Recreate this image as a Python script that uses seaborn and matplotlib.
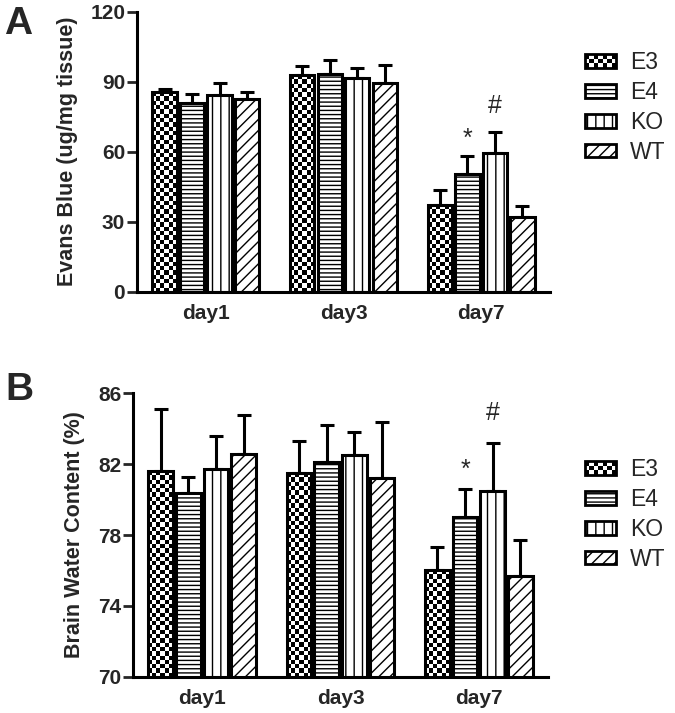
import numpy as np
import pandas as pd
import matplotlib
matplotlib.use("Agg")
import matplotlib.pyplot as plt
import seaborn as sns
from matplotlib.patches import Rectangle
from matplotlib.legend_handler import HandlerBase

# Data
days = ["day1", "day3", "day7"]
groups = ["E3", "E4", "KO", "WT"]

# Panel A: Evans Blue, rows = groups, cols = days
eb_mean = [[85.5, 92.8, 37.2],
           [80.8, 93.2, 50.3],
           [84.3, 91.5, 59.3],
           [82.7, 89.5, 32.1]]
eb_err = [[1.3, 4.1, 6.4],
          [4.0, 5.9, 7.7],
          [5.0, 4.3, 9.3],
          [3.0, 7.5, 4.7]]

# Panel B: brain water content (%)
bwc_mean = [[81.6, 81.5, 76.0],
            [80.35, 82.1, 79.0],
            [81.7, 82.5, 80.5],
            [82.6, 81.2, 75.7]]
bwc_err = [[3.5, 1.8, 1.3],
           [0.95, 2.1, 1.6],
           [1.9, 1.3, 2.7],
           [2.2, 3.2, 2.0]]

# significance marks: (group, day, mark)
sig_marks = [("E4", "day7", "*"), ("KO", "day7", "#")]

hatches = {"E3": None, "E4": "----", "KO": "||", "WT": "///"}
CHECK_PX = 4.3  # size of one checker square in pixels

sns.set_style("ticks")
plt.rcParams["font.family"] = ["Liberation Sans", "DejaVu Sans"]
plt.rcParams["hatch.linewidth"] = 1.0
plt.rcParams["hatch.color"] = "black"


def to_frame(mean, err):
    rows = []
    for gi, g in enumerate(groups):
        for di, d in enumerate(days):
            rows.append({"day": d, "group": g, "value": mean[gi][di], "err": err[gi][di]})
    return pd.DataFrame(rows)


def checker(ax, bar):
    # black/white checkerboard clipped to the bar
    x0, y0 = bar.get_xy()
    w, h = bar.get_width(), bar.get_height()
    ybot = max(y0, ax.get_ylim()[0])
    p0 = ax.transData.transform((x0, ybot))
    p1 = ax.transData.transform((x0 + w, y0 + h))
    ncol = max(1, int(round((p1[0] - p0[0]) / CHECK_PX)))
    nrow = max(1, int(round((p1[1] - p0[1]) / CHECK_PX)))
    grid = (np.add.outer(np.arange(nrow), np.arange(ncol)) % 2).astype(float)
    im = ax.imshow(grid, cmap="gray", vmin=0, vmax=1, extent=(x0, x0 + w, ybot, y0 + h),
                   aspect="auto", interpolation="nearest", zorder=0.8)
    im.set_clip_path(bar)


class CheckerHandler(HandlerBase):
    def create_artists(self, legend, orig_handle, xdescent, ydescent, width, height, fontsize, trans):
        arts = []
        ncol, nrow = 7, 3
        cw, ch = width / ncol, height / nrow
        for i in range(ncol):
            for j in range(nrow):
                if (i + j) % 2 == 0:
                    arts.append(Rectangle((-xdescent + i * cw, -ydescent + j * ch), cw, ch,
                                          facecolor="black", edgecolor="none", transform=trans))
        arts.append(Rectangle((-xdescent, -ydescent), width, height, facecolor="none",
                              edgecolor="black", lw=2.0, transform=trans))
        return arts


def draw_panel(ax, mean, err, ylim, yticks, ylabel, sig_y, legend_anchor):
    df = to_frame(mean, err)
    sns.barplot(data=df, x="day", y="value", hue="group", order=days, hue_order=groups,
                errorbar=None, palette=["white"] * 4, saturation=1, width=0.8, gap=0.12,
                edgecolor="black", linewidth=2.2, legend=False, ax=ax)
    ax.set_xlim(-0.5, 2.5)
    ax.set_ylim(*ylim)

    centers = {}
    for cont, g in zip(ax.containers, groups):
        for bar, d in zip(cont, days):
            centers[(g, d)] = (bar.get_x() + bar.get_width() / 2, bar.get_height() + bar.get_y())
            if g == "E3":
                bar.set_facecolor("none")
                checker(ax, bar)
            else:
                bar.set_hatch(hatches[g])
            bar.set_zorder(1)

    xs = [centers[(r.group, r.day)][0] for r in df.itertuples()]
    ax.errorbar(xs, df["value"], yerr=[np.zeros(len(df)), df["err"]], fmt="none",
                ecolor="black", elinewidth=2.2, capsize=4.7, capthick=2.2, zorder=0.5)

    for (g, d, m), yv in zip(sig_marks, sig_y):
        ax.text(centers[(g, d)][0], yv, m, ha="center", va="center", fontsize=18)

    ax.set_xlim(-0.5, 2.5)
    ax.set_ylim(*ylim)
    ax.set_yticks(yticks)
    sns.despine(ax=ax)
    for side in ["left", "bottom"]:
        ax.spines[side].set_linewidth(2.2)
        ax.spines[side].set_color("black")
    ax.tick_params(axis="y", direction="out", length=7, width=2.0, pad=1.5, labelsize=15)
    ax.tick_params(axis="x", length=0, pad=9, labelsize=15)
    for lab in ax.get_xticklabels() + ax.get_yticklabels():
        lab.set_fontweight("bold")
    ax.set_xlabel("")
    ax.set_ylabel(ylabel, fontsize=15.5, fontweight="bold", labelpad=9)

    handles = []
    hmap = {}
    for g in groups:
        r = Rectangle((0, 0), 1, 1, facecolor="white", edgecolor="black", lw=2.0,
                      hatch=hatches[g])
        if g == "E3":
            hmap[r] = CheckerHandler()
        handles.append(r)
    ax.legend(handles, groups, handler_map=hmap, loc="upper left",
              bbox_to_anchor=legend_anchor, bbox_transform=ax.figure.transFigure,
              frameon=False, fontsize=16.5, handlelength=1.35, handleheight=0.55,
              handletextpad=0.6, labelspacing=0.3, borderpad=0, borderaxespad=0)


fig = plt.figure(figsize=(6.75, 7.13), dpi=100)
ax_a = fig.add_axes([137 / 675, 1 - 291.7 / 713, (550 - 137) / 675, (291.7 - 11.7) / 713])
ax_b = fig.add_axes([133 / 675, 1 - 676.7 / 713, (548 - 133) / 675, (676.7 - 393.3) / 713])

draw_panel(ax_a, eb_mean, eb_err, (0, 120), [0, 30, 60, 90, 120],
           "Evans Blue (ug/mg tissue)", [65.5, 79.5], (585 / 675, 1 - 51 / 713))
draw_panel(ax_b, bwc_mean, bwc_err, (70, 86), [70, 74, 78, 82, 86],
           "Brain Water Content (%)", [81.7, 84.9], (585 / 675, 1 - 458 / 713))

fig.text(4 / 675, 1 - 6 / 713, "A", fontsize=28, fontweight="bold", va="top", ha="left")
fig.text(5 / 675, 1 - 372 / 713, "B", fontsize=28, fontweight="bold", va="top", ha="left")

fig.savefig("out.png", dpi=100)
